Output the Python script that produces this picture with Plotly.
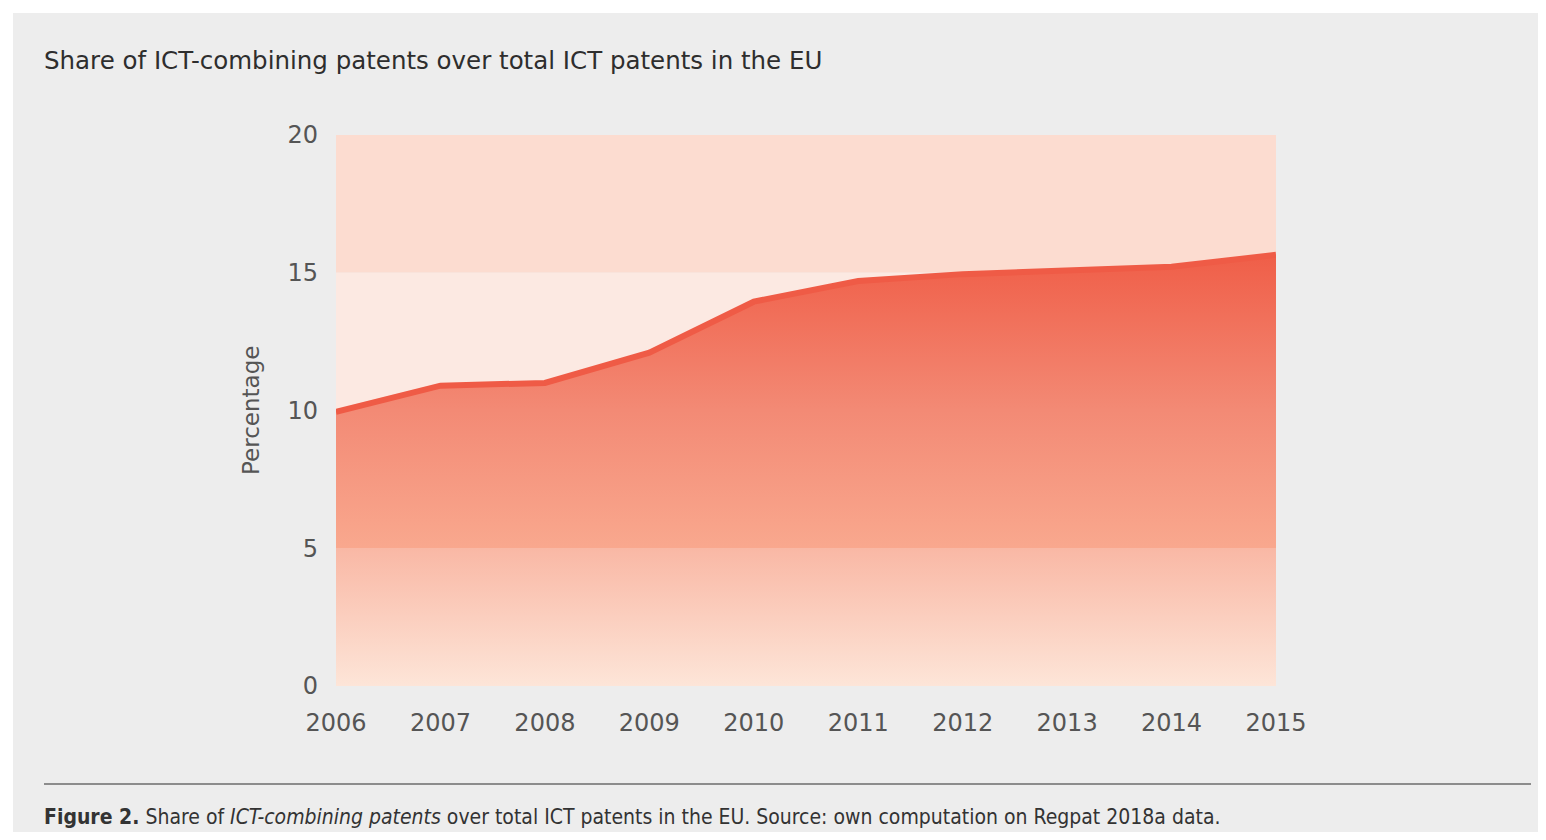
import plotly.graph_objects as go

years = [2006, 2007, 2008, 2009, 2010, 2011, 2012, 2013, 2014, 2015]
share = [9.95, 10.9, 11.0, 12.1, 13.95, 14.7, 14.95, 15.1, 15.22, 15.65]
y_ticks = [0, 5, 10, 15, 20]

title_text = "Share of ICT-combining patents over total ICT patents in the EU"
caption_text = ("<b>Figure 2.</b> Share of <i>ICT-combining patents</i> over total ICT patents "
                "in the EU. Source: own computation on Regpat 2018a data.")

OFF = 8  # browser body margin
W, H = 1530, 824
L, R, T, B = 336 - OFF, 1276 - OFF, 135 - OFF, 686 - OFF
pw, ph = R - L, B - T


def px(x):
    return (x - OFF - L) / pw


def py(y):
    return (B - (y - OFF)) / ph


fig = go.Figure()

fig.add_trace(go.Scatter(
    x=years, y=share, mode="none", fill="tozeroy",
    fillgradient=dict(
        type="vertical", start=0, stop=16,
        colorscale=[
            [0.0, "#fde5d8"],
            [0.3120, "#f9b8a5"],
            [0.3125, "#f9a88e"],
            [0.625, "#f38a75"],
            [0.94, "#f0634d"],
            [1.0, "#ee5b45"],
        ],
    ),
    hoverinfo="skip", showlegend=False,
))
fig.add_trace(go.Scatter(
    x=years, y=share, mode="lines",
    line=dict(color="#ef5b46", width=6),
    showlegend=False,
))

shapes = [
    dict(type="rect", xref="paper", yref="paper", x0=px(13), x1=px(W + 40), y0=py(H + 40), y1=py(13),
         fillcolor="#ededed", line=dict(width=0), layer="below"),
    dict(type="rect", xref="x", yref="y", x0=2006, x1=2015, y0=15, y1=20,
         fillcolor="#fcdcd0", line=dict(width=0), layer="below"),
    dict(type="rect", xref="x", yref="y", x0=2006, x1=2015, y0=10, y1=15,
         fillcolor="#fce9e2", line=dict(width=0), layer="below"),
    dict(type="rect", xref="x", yref="y", x0=2006, x1=2015, y0=0, y1=10,
         fillcolor="#fcdcd0", line=dict(width=0), layer="below"),
    dict(type="line", xref="paper", yref="paper", x0=px(44), x1=px(1531), y0=py(784), y1=py(784),
         line=dict(color="#8c8c8c", width=2)),
]

annotations = [
    dict(text=title_text, xref="paper", yref="paper", x=px(42), y=py(60),
         xanchor="left", yanchor="middle", showarrow=False,
         font=dict(family="DejaVu Sans", size=24.5, color="#2e2e2e")),
    dict(text=caption_text, xref="paper", yref="paper", x=px(42), y=py(817),
         xanchor="left", yanchor="middle", showarrow=False,
         font=dict(family="DejaVu Sans Condensed", size=21, color="#333333")),
    dict(text="Percentage", xref="paper", yref="paper", x=px(251), y=py(411),
         xanchor="center", yanchor="middle", textangle=-90, showarrow=False,
         font=dict(family="DejaVu Sans", size=23, color="#555555")),
]

fig.update_layout(
    width=W, height=H,
    margin=dict(l=L, r=W - R, t=T, b=H - B, pad=0),
    paper_bgcolor="#ffffff",
    plot_bgcolor="rgba(0,0,0,0)",
    shapes=shapes,
    annotations=annotations,
    font=dict(family="DejaVu Sans", color="#555555", size=24),
    xaxis=dict(range=[2006, 2015], tickvals=years, ticktext=[str(y) for y in years],
               showgrid=False, zeroline=False, showline=False, ticks="",
               ticklabelstandoff=20, tickfont=dict(size=24, color="#555555")),
    yaxis=dict(range=[0, 20], tickvals=y_ticks, showgrid=False, zeroline=False,
               showline=False, ticks="", ticklabelstandoff=17,
               tickfont=dict(size=24, color="#555555")),
    hovermode=False,
)

fig.write_html("out.html")
